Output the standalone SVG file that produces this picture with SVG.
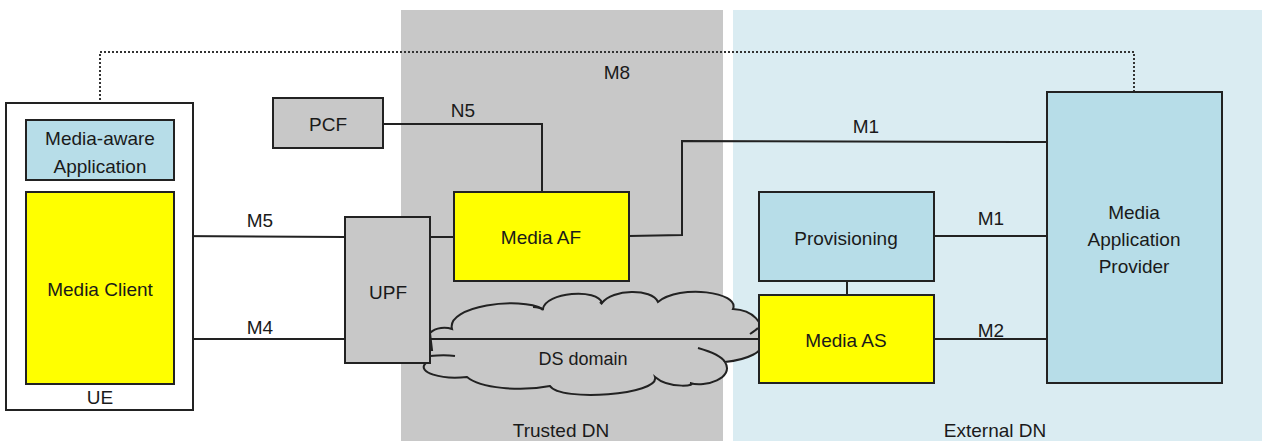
<svg xmlns="http://www.w3.org/2000/svg" width="1262" height="441" viewBox="0 0 1262 441">
<defs>
<style>
.box{stroke:#222;stroke-width:2}
.blue{fill:#b7dde8}
.yel{fill:#ffff00}
.gry{fill:#c8c8c8}
.ln{fill:none;stroke:#222;stroke-width:2}
.dot{fill:none;stroke:#333;stroke-width:2;stroke-dasharray:2 2}
text{font-family:"Liberation Sans",Arial,sans-serif;font-size:19px;fill:#1a1a1a;text-anchor:middle}
</style>
</defs>
<rect width="1262" height="441" fill="#ffffff"/>
<g id="trusted-dn">
<rect x="401" y="10" width="322" height="431" fill="#c8c8c8"/>
<text x="561" y="437">Trusted DN</text>
</g>
<g id="external-dn">
<rect x="733" y="10" width="529" height="431" fill="#daecf2"/>
<text x="995" y="437">External DN</text>
</g>
<g id="ds-domain">
<path class="gry" stroke="#222" stroke-width="2" d="M430,333 C436,327 446,327 452,329 C446,306 520,296 543,309 C545,292 598,288 602,303 C612,289 652,288 658,302 C680,284 740,292 733,309 C752,310 766,322 760,340 C768,352 745,360 725,362 C735,378 705,388 690,383 C700,385 670,390 655,377 C660,395 560,402 550,386 C520,392 480,388 467,377 C440,380 418,372 425,364 C418,358 425,350 432,350 Z"/>
<path class="ln" d="M430,356 C440,355 448,355 455,356 M698,348 C712,352 722,357 725,362 M533,307 C537,307 541,308 543,310 M600,302 L602,304 M750,334 C753,332 756,330 758,328"/>
<text x="583" y="365" style="font-size:18px">DS domain</text>
</g>
<g id="connectors">
<path class="dot" d="M100,120 V52 H1134 V92"/>
<line class="ln" x1="174" y1="236" x2="345" y2="237"/>
<line class="ln" x1="174" y1="339" x2="345" y2="339"/>
<line class="ln" x1="430" y1="339" x2="759" y2="339"/>
<line class="ln" x1="430" y1="237" x2="454" y2="237"/>
<path class="ln" d="M383,124 H542 V192"/>
<path class="ln" d="M629,236 L682,235 V141 L1047,142"/>
<line class="ln" x1="934" y1="236" x2="1047" y2="236"/>
<line class="ln" x1="934" y1="339" x2="1047" y2="339"/>
<line class="ln" x1="847" y1="281" x2="847" y2="295"/>
<text x="617" y="79">M8</text>
<text x="463" y="117">N5</text>
<text x="260" y="227">M5</text>
<text x="260" y="334">M4</text>
<text x="866" y="133">M1</text>
<text x="991" y="225">M1</text>
<text x="991" y="337">M2</text>
</g>
<g id="ue">
<rect x="6" y="103" width="187" height="307" fill="#ffffff" class="box"/>
<text x="100" y="404">UE</text>
</g>
<g id="media-aware-application">
<rect x="26" y="120" width="148" height="60" class="box blue"/>
<text x="100" y="145">Media-aware</text>
<text x="100" y="173">Application</text>
</g>
<g id="media-client">
<rect x="26" y="192" width="148" height="192" class="box yel"/>
<text x="100" y="296">Media Client</text>
</g>
<g id="pcf">
<rect x="273" y="98" width="110" height="50" class="box gry"/>
<text x="328" y="131">PCF</text>
</g>
<g id="upf">
<rect x="345" y="217" width="85" height="146" class="box gry"/>
<text x="388" y="299">UPF</text>
</g>
<g id="media-af">
<rect x="454" y="192" width="175" height="89" class="box yel"/>
<text x="541" y="244">Media AF</text>
</g>
<g id="provisioning">
<rect x="759" y="192" width="175" height="89" class="box blue"/>
<text x="846" y="245">Provisioning</text>
</g>
<g id="media-as">
<rect x="759" y="295" width="175" height="88" class="box yel"/>
<text x="846" y="347">Media AS</text>
</g>
<g id="media-application-provider">
<rect x="1047" y="92" width="175" height="291" class="box blue"/>
<text x="1134" y="219">Media</text>
<text x="1134" y="246">Application</text>
<text x="1134" y="273">Provider</text>
</g>
</svg>
